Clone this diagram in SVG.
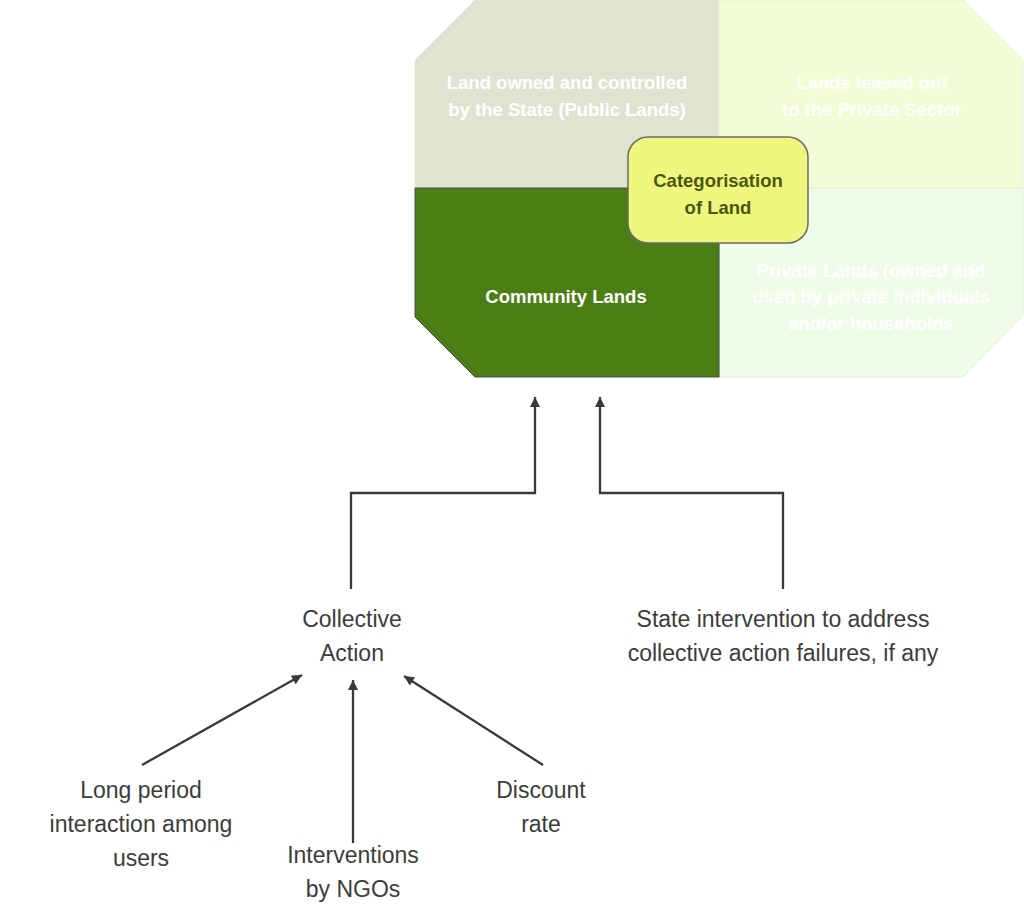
<svg xmlns="http://www.w3.org/2000/svg" width="1024" height="921" viewBox="0 0 1024 921">
<style>
.q{font-family:"Liberation Sans",Arial,sans-serif;font-weight:bold;font-size:18.5px;fill:#ffffff;text-anchor:middle}
.c{font-family:"Liberation Sans",Arial,sans-serif;font-weight:bold;font-size:18.5px;fill:#4b5710;text-anchor:middle}
.t{font-family:"Liberation Sans",Arial,sans-serif;font-size:23px;fill:#3c3c3c;text-anchor:middle}
.ln{fill:none;stroke:#3a3a3a;stroke-width:2.3}
</style>
<defs>
<marker id="ah" viewBox="0 0 10 10" refX="10" refY="5" markerWidth="11" markerHeight="10" markerUnits="userSpaceOnUse" orient="auto">
<path d="M0,0 L10,5 L0,10 Z" fill="#3a3a3a"/>
</marker>
</defs>
<rect width="1024" height="921" fill="#ffffff"/>
<g id="quad-public">
<polygon points="475,0 719,0 719,188 415,188 415,60" fill="#dfe4d1" stroke="#e3e7da" stroke-width="1"/>
<text class="q" x="567" y="89">Land owned and controlled</text>
<text class="q" x="567" y="116">by the State (Public Lands)</text>
</g>
<g id="quad-leased">
<polygon points="719,0 963,0 1023,60 1023,188 719,188" fill="#f1fdd4" stroke="#e8f0d6" stroke-width="1"/>
<text class="q" x="872" y="89">Lands leased out</text>
<text class="q" x="872" y="116">to the Private Sector</text>
</g>
<g id="quad-private">
<polygon points="719,188 1023,188 1023,315 963,377 719,377" fill="#effce8" stroke="#e4ecdc" stroke-width="1"/>
<text class="q" x="871" y="277">Private Lands (owned and</text>
<text class="q" x="871" y="303">used by private individuals</text>
<text class="q" x="871" y="330">and/or households</text>
</g>
<g id="quad-community">
<polygon points="415,188 719,188 719,377 475,377 415,317" fill="#4b7f16" stroke="#4a4a4a" stroke-width="1"/>
<text class="q" x="566" y="303">Community Lands</text>
</g>
<g id="categorisation">
<rect x="628" y="137" width="180" height="106" rx="20" ry="20" fill="#eff77f" stroke="#6b6b6b" stroke-width="1.5"/>
<text class="c" x="718" y="187">Categorisation</text>
<text class="c" x="718" y="214">of Land</text>
</g>
<g id="connectors">
<polyline class="ln" points="351,589 351,493 535,493 535,397" marker-end="url(#ah)"/>
<polyline class="ln" points="783,589 783,493 600,493 600,397" marker-end="url(#ah)"/>
<line class="ln" x1="142" y1="765" x2="302" y2="675" marker-end="url(#ah)"/>
<line class="ln" x1="353" y1="843" x2="353" y2="680" marker-end="url(#ah)"/>
<line class="ln" x1="543" y1="765" x2="404" y2="676" marker-end="url(#ah)"/>
</g>
<g id="collective-action">
<text class="t" x="352" y="627">Collective</text>
<text class="t" x="352" y="661">Action</text>
</g>
<g id="state-intervention">
<text class="t" x="783" y="627">State intervention to address</text>
<text class="t" x="783" y="661">collective action failures, if any</text>
</g>
<g id="long-period">
<text class="t" x="141" y="798">Long period</text>
<text class="t" x="141" y="832">interaction among</text>
<text class="t" x="141" y="866">users</text>
</g>
<g id="ngos">
<text class="t" x="353" y="863">Interventions</text>
<text class="t" x="353" y="897">by NGOs</text>
</g>
<g id="discount">
<text class="t" x="541" y="798">Discount</text>
<text class="t" x="541" y="832">rate</text>
</g>
</svg>
